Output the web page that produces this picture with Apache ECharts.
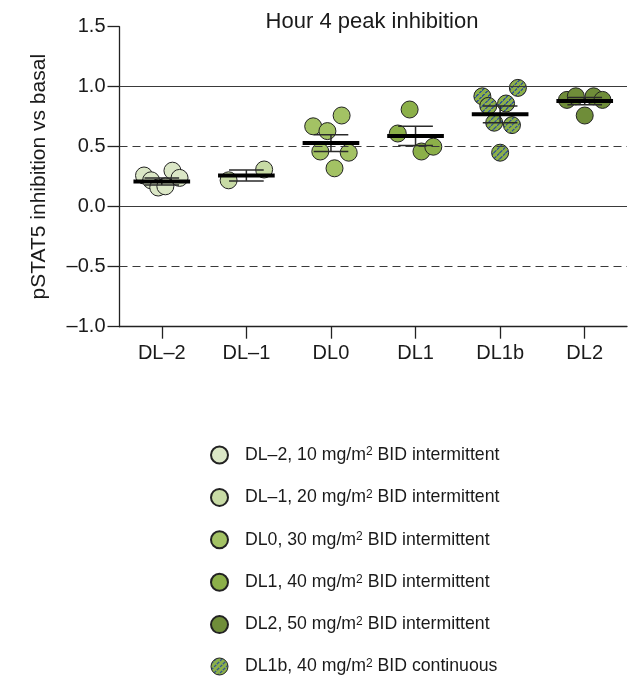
<!DOCTYPE html>
<html>
<head>
<meta charset="utf-8">
<script src="https://cdn.jsdelivr.net/npm/echarts@6/dist/echarts.min.js"></script>
<style>
  html, body { margin: 0; padding: 0; background: #fff; }
  #chart { width: 636px; height: 677px; }
</style>
</head>
<body>
<div id="chart"></div>
<script>
// Dose levels along the x axis
const categories = ['DL–2', 'DL–1', 'DL0', 'DL1', 'DL1b', 'DL2'];

// Individual patient values, listed left to right within each dose level
const valuesDLm2 = [0.26, 0.22, 0.16, 0.17, 0.30, 0.24];
const valuesDLm1 = [0.22, 0.31];
const valuesDL0 = [0.67, 0.46, 0.63, 0.32, 0.76, 0.45];
const valuesDL1 = [0.61, 0.81, 0.46, 0.50];
const valuesDL1b = [0.92, 0.84, 0.70, 0.45, 0.86, 0.68, 0.99];
const valuesDL2 = [0.89, 0.92, 0.76, 0.92, 0.89];

// Group mean and SEM per dose level (category order)
const means = [0.21, 0.26, 0.53, 0.59, 0.77, 0.88];
const sems = [0.03, 0.045, 0.07, 0.08, 0.07, 0.03];

// Horizontal reference levels
const refLevels = [1.0, 0.5, 0.0, -0.5];
const refDashed = [false, true, false, true];

// Legend entries (legend order)
const legendDose = ['DL–2', 'DL–1', 'DL0', 'DL1', 'DL2', 'DL1b'];
const legendMg = [10, 20, 30, 40, 50, 40];
const legendRegimen = ['BID intermittent', 'BID intermittent', 'BID intermittent',
                       'BID intermittent', 'BID intermittent', 'BID continuous'];

const FONT = '"Liberation Sans", Arial, Helvetica, sans-serif';
const INK = '#1a1a1a';
const SYMBOL_SIZE = 17;

// Diagonal blue hatch on green, for the continuous-dosing cohort.
// The tile is drawn at 4x and scaled down; scatter symbols are drawn on a
// unit path scaled by size/2, so their pattern is shrunk by the inverse of that.
function hatchCanvas(base, stripe) {
  const s = 24;
  const c = document.createElement('canvas');
  c.width = s; c.height = s;
  const g = c.getContext('2d');
  g.fillStyle = base;
  g.fillRect(0, 0, s, s);
  g.strokeStyle = stripe;
  g.lineWidth = 5.2;
  g.setLineDash([13, 4]);
  g.beginPath();
  g.moveTo(0, s); g.lineTo(s, 0);
  g.stroke();
  g.setLineDash([]);
  g.beginPath();
  g.moveTo(-4, 4); g.lineTo(4, -4);
  g.moveTo(s - 4, s + 4); g.lineTo(s + 4, s - 4);
  g.stroke();
  return c;
}
const hatchTile = hatchCanvas('#8cb049', '#325496');
const hatchForSymbol = { image: hatchTile, repeat: 'repeat', scaleX: 0.25 * 2 / SYMBOL_SIZE, scaleY: 0.25 * 2 / SYMBOL_SIZE };
const hatchForLegend = { image: hatchTile, repeat: 'repeat', scaleX: 0.25, scaleY: 0.25 };

const fills = {
  'DL–2': '#dbe7c6',
  'DL–1': '#c8dba5',
  'DL0': '#a3c264',
  'DL1': '#8cb049',
  'DL2': '#6f8d39',
  'DL1b': hatchForSymbol
};

const valuesByDose = {
  'DL–2': valuesDLm2, 'DL–1': valuesDLm1, 'DL0': valuesDL0,
  'DL1': valuesDL1, 'DL1b': valuesDL1b, 'DL2': valuesDL2
};

// Spread points of a group evenly across a fixed band around the category centre
const HALF_SPREAD = 0.21;
function spread(i, n) {
  if (n < 2) return 0;
  return (i - (n - 1) / 2) / ((n - 1) / 2) * HALF_SPREAD;
}

const legendNames = legendDose.map((d, i) =>
  d + ', ' + legendMg[i] + ' mg/m{sup|2} ' + legendRegimen[i]);

const scatterSeries = legendDose.map((dose, k) => {
  const cat = categories.indexOf(dose);
  const vals = valuesByDose[dose];
  return {
    type: 'scatter',
    name: legendNames[k],
    xAxisIndex: 1,
    yAxisIndex: 0,
    symbol: 'circle',
    symbolSize: SYMBOL_SIZE,
    z: 3,
    itemStyle: { color: fills[dose], borderColor: '#222', borderWidth: 1, opacity: 1 },
    emphasis: { disabled: true },
    data: vals.map((v, i) => [cat + spread(i, vals.length), v])
  };
});

// Reference lines carried by an empty helper series
const refSeries = {
  type: 'scatter',
  xAxisIndex: 1,
  yAxisIndex: 0,
  data: [],
  z: 1,
  silent: true,
  markLine: {
    silent: true,
    symbol: 'none',
    label: { show: false },
    animation: false,
    data: refLevels.map((y, i) => ({
      yAxis: y,
      lineStyle: { color: '#3a3a3a', width: 1.2, type: refDashed[i] ? [8, 5] : 'solid' }
    }))
  }
};

// Mean bar with SEM whiskers for each dose level
const summarySeries = {
  type: 'custom',
  xAxisIndex: 1,
  yAxisIndex: 0,
  z: 5,
  silent: true,
  data: categories.map((c, i) => [i, means[i], sems[i]]),
  renderItem: function (params, api) {
    const x = api.value(0), m = api.value(1), e = api.value(2);
    const band = api.size([1, 0])[0];
    const pm = api.coord([x, m]);
    const pt = api.coord([x, m + e]);
    const pb = api.coord([x, m - e]);
    const capHalf = band * 0.205;
    const barHalf = band * 0.335;
    const ws = { stroke: '#2a2a2a', lineWidth: 1.5 };
    return {
      type: 'group',
      children: [
        { type: 'line', shape: { x1: pm[0], y1: pt[1], x2: pm[0], y2: pb[1] }, style: ws },
        { type: 'line', shape: { x1: pm[0] - capHalf, y1: pt[1], x2: pm[0] + capHalf, y2: pt[1] }, style: ws },
        { type: 'line', shape: { x1: pm[0] - capHalf, y1: pb[1], x2: pm[0] + capHalf, y2: pb[1] }, style: ws },
        { type: 'rect', shape: { x: pm[0] - barHalf, y: pm[1] - 2, width: barHalf * 2, height: 4 }, style: { fill: '#000' } }
      ]
    };
  }
};

const legendData = legendNames.map((name, i) =>
  legendDose[i] === 'DL1b'
    ? { name: name, itemStyle: { color: hatchForLegend, borderColor: '#222', borderWidth: 1 } }
    : { name: name });

const chart = echarts.init(document.getElementById('chart'), null, { renderer: 'canvas' });
chart.setOption({
  animation: false,
  backgroundColor: '#fff',
  textStyle: { fontFamily: FONT },
  title: {
    text: 'Hour 4 peak inhibition',
    left: 367,
    textAlign: 'center',
    top: 6,
    textStyle: { fontFamily: FONT, fontSize: 22, fontWeight: 'normal', color: INK }
  },
  grid: { left: 119.5, right: 9, top: 26.7, bottom: 350.3, containLabel: false },
  xAxis: [
    {
      type: 'category',
      data: categories,
      boundaryGap: true,
      axisLine: { show: true, onZero: false, lineStyle: { color: '#222', width: 1.3 } },
      axisTick: { show: true, alignWithLabel: true, length: 12, lineStyle: { color: '#222', width: 1.3 } },
      axisLabel: { fontFamily: FONT, fontSize: 20, color: INK, margin: 17 },
      splitLine: { show: false }
    },
    {
      type: 'value',
      min: -0.5,
      max: 5.5,
      show: false
    }
  ],
  yAxis: {
    type: 'value',
    min: -1,
    max: 1.5,
    interval: 0.5,
    name: 'pSTAT5 inhibition vs basal',
    nameLocation: 'middle',
    nameGap: 70,
    nameTextStyle: { fontFamily: FONT, fontSize: 21, color: INK },
    axisLine: { show: true, onZero: false, lineStyle: { color: '#222', width: 1.3 } },
    axisTick: { show: true, length: 12, lineStyle: { color: '#222', width: 1.3 } },
    axisLabel: {
      fontFamily: FONT, fontSize: 20, color: INK, margin: 14,
      formatter: v => (v < 0 ? '–' + Math.abs(v).toFixed(1) : v.toFixed(1))
    },
    splitLine: { show: false }
  },
  legend: {
    orient: 'vertical',
    left: 205,
    top: 440.5,
    height: 300,
    itemWidth: 17,
    itemHeight: 17,
    itemGap: 23.4,
    icon: 'circle',
    selectedMode: false,
    data: legendData,
    textStyle: {
      fontFamily: FONT, fontSize: 17.7, color: INK, padding: [0, 0, 0, 12],
      rich: { sup: { fontFamily: FONT, fontSize: 12, color: INK, verticalAlign: 'top' } }
    }
  },
  series: [refSeries].concat(scatterSeries, [summarySeries])
});
</script>
</body>
</html>
